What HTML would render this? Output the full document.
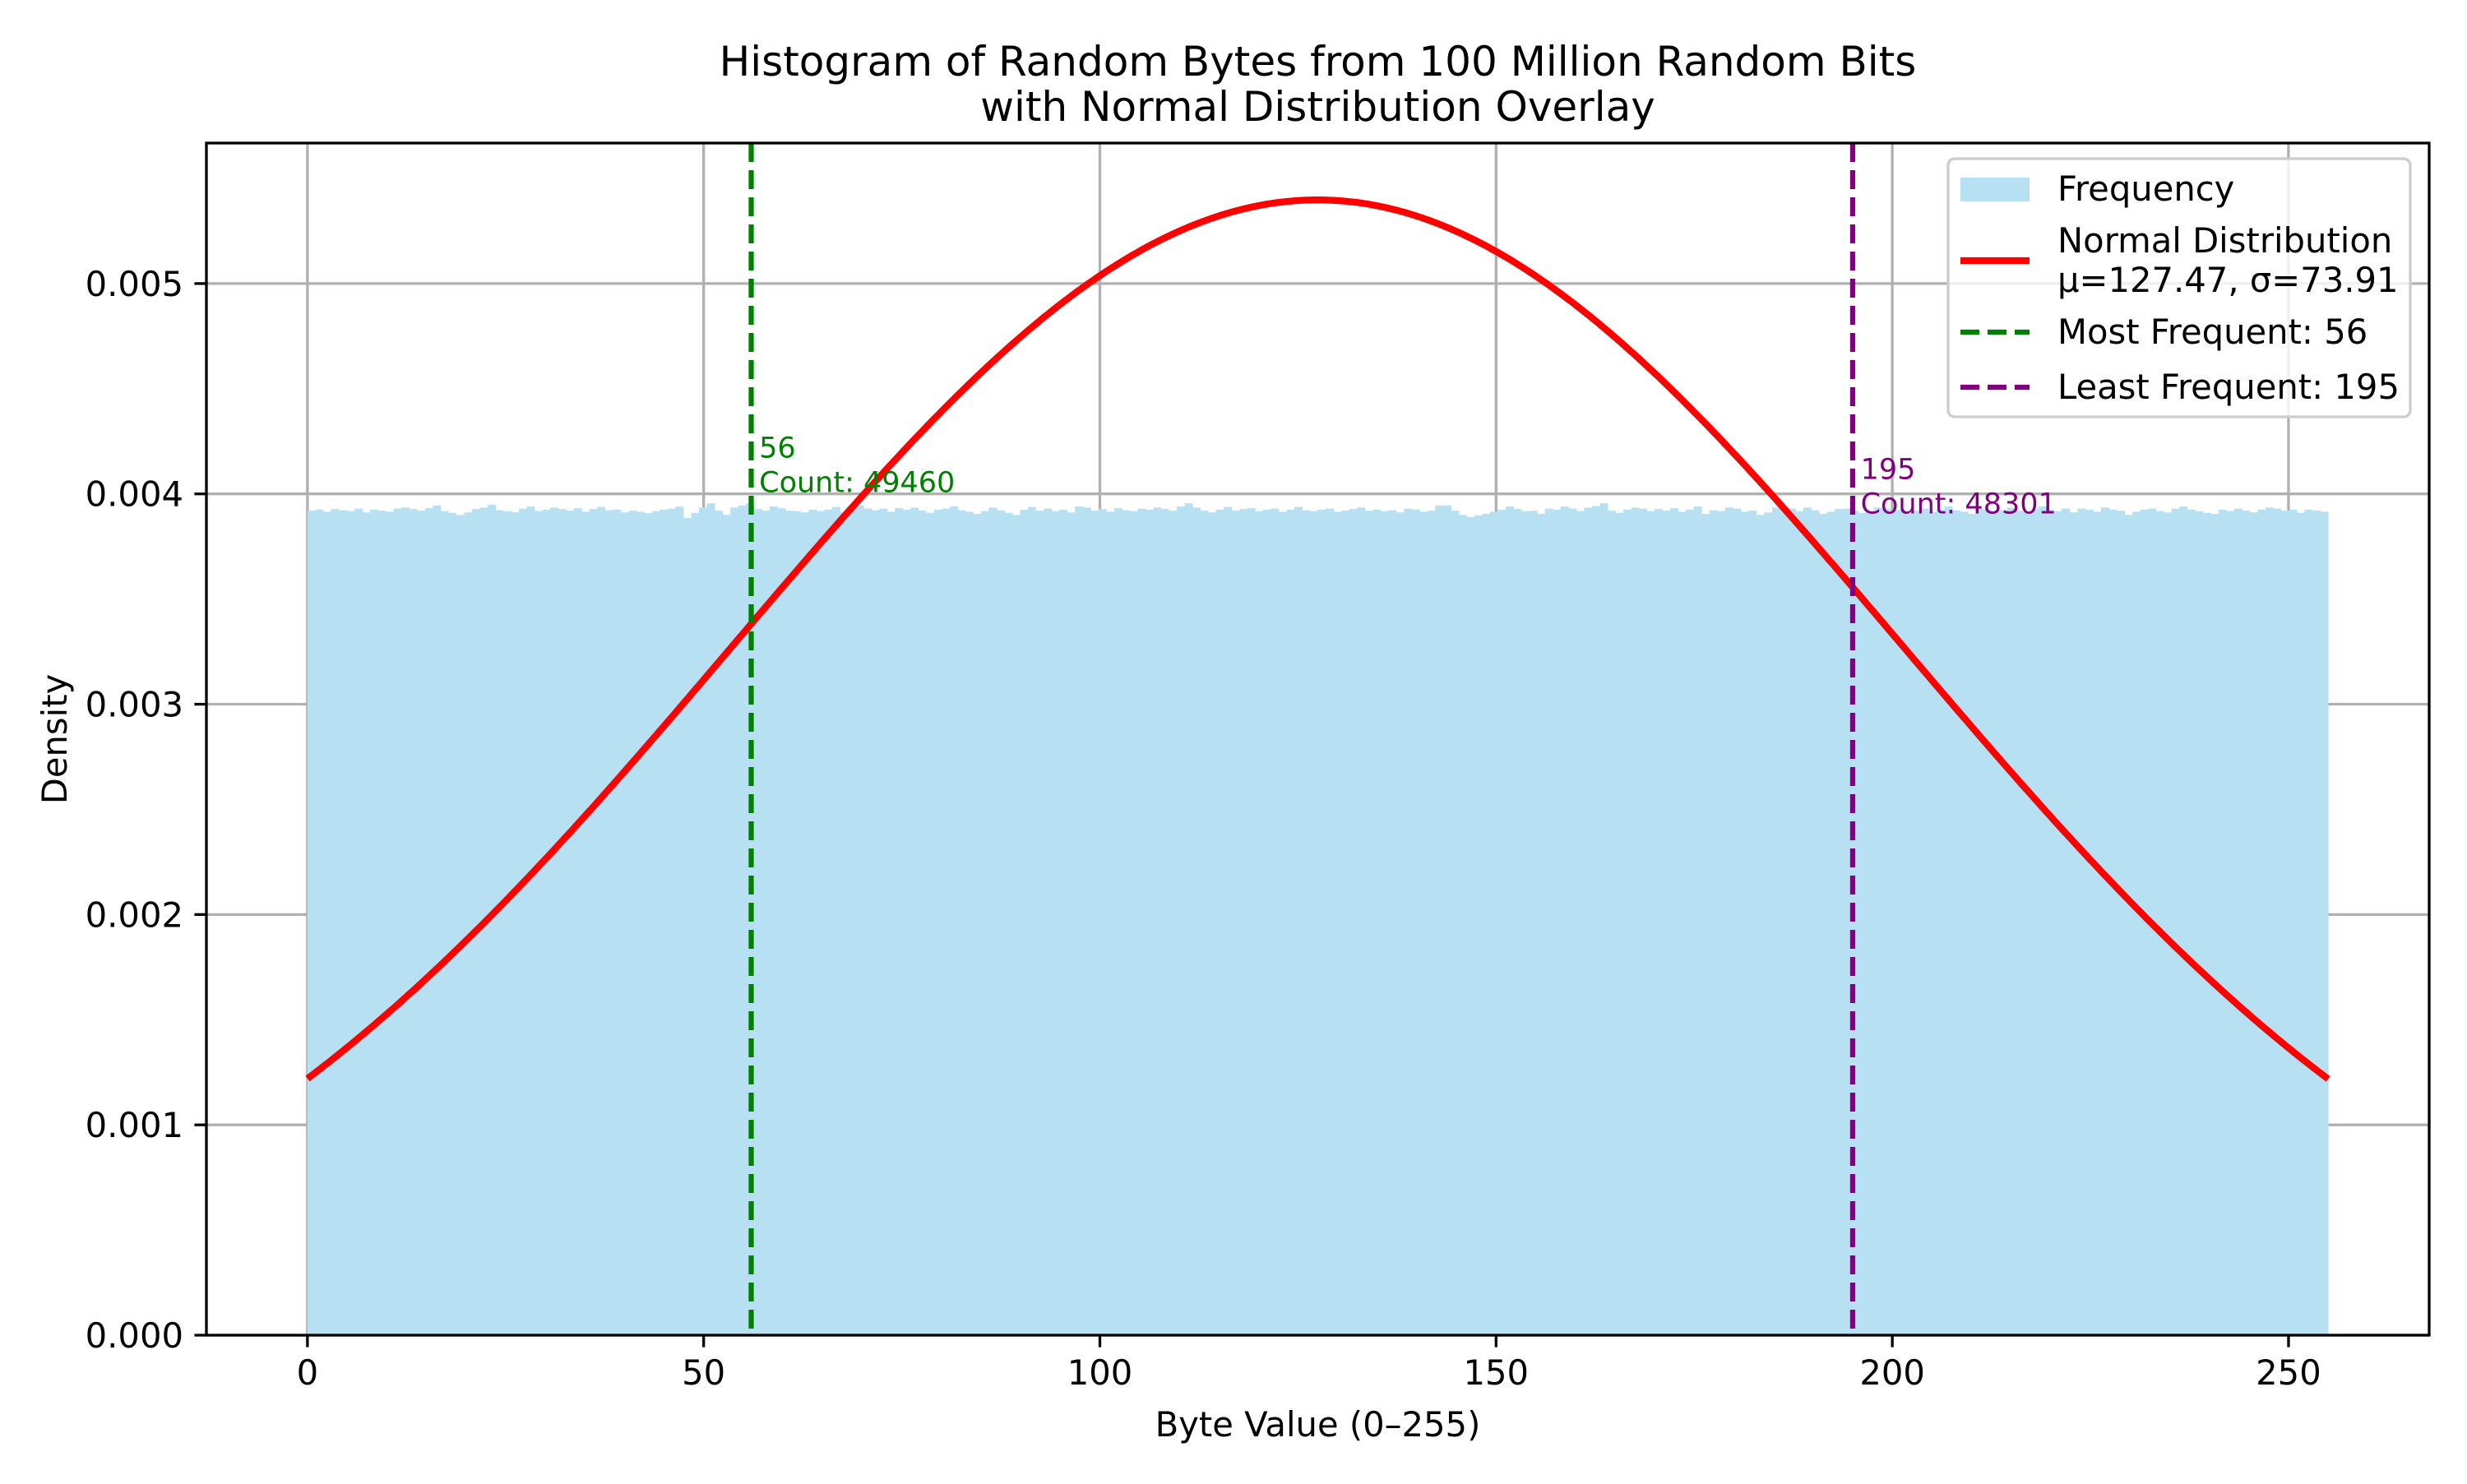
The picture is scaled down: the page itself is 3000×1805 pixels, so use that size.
<!DOCTYPE html>
<html><head><meta charset="utf-8"><style>
body{margin:0;background:#fff}
svg text{font-family:"DejaVu Sans","Liberation Sans",sans-serif}
</style></head><body>
<svg id="chart" width="3000" height="1800" xmlns="http://www.w3.org/2000/svg">
<rect width="3000" height="1800" fill="#fff"/>
<g id="grid"></g><g id="bars"></g><g id="lines"></g><g id="axes"></g><g id="legend"></g>
</svg>
<script>
// data (density x 1e6, 256 bins)
const binDensities=[3920,3925,3915,3928,3922,3918,3930,3912,3925,3920,3915,3930,3935,3928,3920,3932,3945,3918,3910,3900,3912,3928,3935,3948,3922,3918,3912,3930,3940,3918,3925,3935,3928,3920,3932,3915,3928,3938,3922,3925,3912,3920,3915,3908,3918,3925,3930,3940,3885,3910,3935,3955,3920,3900,3935,3945,3955,3928,3920,3940,3932,3920,3918,3912,3925,3918,3925,3938,3912,3920,3945,3930,3922,3930,3915,3932,3925,3935,3920,3910,3925,3930,3940,3922,3915,3905,3918,3935,3922,3910,3900,3925,3938,3920,3930,3918,3925,3912,3940,3935,3920,3928,3915,3932,3922,3918,3930,3925,3935,3928,3920,3940,3955,3935,3920,3912,3925,3938,3920,3928,3932,3918,3925,3930,3915,3925,3938,3922,3918,3925,3930,3915,3920,3928,3935,3920,3925,3918,3922,3912,3930,3925,3915,3920,3945,3945,3920,3900,3890,3898,3905,3915,3925,3940,3928,3918,3920,3905,3930,3925,3940,3930,3918,3935,3942,3955,3920,3910,3925,3935,3930,3918,3928,3920,3932,3915,3925,3940,3905,3922,3918,3935,3930,3915,3920,3900,3912,3935,3925,3930,3918,3935,3922,3905,3915,3928,3930,3920,3910,3918,3935,3930,3920,3925,3912,3920,3930,3915,3925,3940,3922,3915,3905,3930,3925,3918,3922,3935,3920,3912,3928,3940,3925,3918,3930,3912,3930,3925,3915,3935,3925,3920,3900,3915,3925,3930,3918,3912,3930,3940,3925,3918,3910,3905,3925,3918,3930,3920,3912,3925,3935,3930,3920,3925,3910,3925,3920,3915];
const fitParams=[127.47,73.91]; // mu, sigma
const markerValues=[56,195];
const markerCounts=[49460,48301];
const xTicks=[0,50,100,150,200,250];
const yTicks=[0,0.001,0.002,0.003,0.004,0.005];

const L=251,R=2954,T=174,B=1624;
const xmin=-12.75,xmax=267.75,ymin=0,ymax=0.005668;
const X=v=>L+(v-xmin)/(xmax-xmin)*(R-L);
const Y=v=>B-(v-ymin)/(ymax-ymin)*(B-T);
const NS="http://www.w3.org/2000/svg";
function mk(tag,attrs,parent,txt){const e=document.createElementNS(NS,tag);for(const k in attrs)e.setAttribute(k,attrs[k]);if(txt!==undefined)e.textContent=txt;document.getElementById(parent).appendChild(e);return e;}

xTicks.forEach(t=>{const e=mk('line',{x1:X(t),x2:X(t),y1:T,y2:B,stroke:'#b0b0b0','stroke-width':3.3},'grid');

});
yTicks.forEach(t=>{const e=mk('line',{x1:L,x2:R,y1:Y(t),y2:Y(t),stroke:'#b0b0b0','stroke-width':3.3},'grid');

});

const bw=255/binDensities.length;
binDensities.forEach((d,i)=>{const v=d/1e6;const e=mk('rect',{x:X(i*bw),y:Y(v),width:X((i+1)*bw)-X(i*bw)+0.5,height:Y(0)-Y(v),fill:'#b7e0f2'},'bars');

});

const mu=fitParams[0],sg=fitParams[1];let pts=[];
for(let i=0;i<=510;i++){const x=i*255/510;const y=Math.exp(-0.5*((x-mu)/sg)**2)/(sg*Math.sqrt(2*Math.PI));pts.push(X(x).toFixed(1)+','+Y(y).toFixed(1));}
const curve=mk('polyline',{points:pts.join(' '),fill:'none',stroke:'#ff0000','stroke-width':8.3},'lines');



const mcols=['#008000','#800080'];const labelY=[0.004,0.0039];
markerValues.forEach((m,i)=>{const e=mk('line',{x1:X(m),x2:X(m),y1:T,y2:B,stroke:mcols[i],'stroke-width':6.25,'stroke-dasharray':'23 10'},'lines');


const t1=mk('text',{x:X(m+1),y:Y(labelY[i])-44,fill:mcols[i],'font-size':35},'lines',String(m));


const t2=mk('text',{x:X(m+1),y:Y(labelY[i])-2,fill:mcols[i],'font-size':35},'lines','Count: '+markerCounts[i]);

});

const fr=mk('rect',{x:L,y:T,width:R-L,height:B-T,fill:'none',stroke:'#000','stroke-width':3.3},'axes');


xTicks.forEach(t=>{mk('line',{x1:X(t),x2:X(t),y1:B,y2:B+14.6,stroke:'#000','stroke-width':3.3},'axes');
const e=mk('text',{x:X(t),y:B+60,'font-size':41.7,'text-anchor':'middle'},'axes',String(t));

});
yTicks.forEach(t=>{mk('line',{x1:L-14.6,x2:L,y1:Y(t),y2:Y(t),stroke:'#000','stroke-width':3.3},'axes');
const e=mk('text',{x:L-28,y:Y(t)+15,'font-size':41.7,'text-anchor':'end'},'axes',t.toFixed(3));

});
let e;
e=mk('text',{x:(L+R)/2,y:1747,'font-size':41.7,'text-anchor':'middle'},'axes','Byte Value (0–255)');


e=mk('text',{x:81,y:(T+B)/2,'font-size':41.7,'text-anchor':'middle',transform:`rotate(-90 81 ${(T+B)/2})`},'axes','Density');


e=mk('text',{x:(L+R)/2,y:92,'font-size':50,'text-anchor':'middle'},'axes','Histogram of Random Bytes from 100 Million Random Bits');


e=mk('text',{x:(L+R)/2,y:147,'font-size':50,'text-anchor':'middle'},'axes','with Normal Distribution Overlay');



e=mk('rect',{x:2369,y:193,width:562,height:314,rx:8,fill:'#fff','fill-opacity':0.8,stroke:'#ccc','stroke-width':3.3},'legend');


mk('rect',{x:2384,y:216,width:84,height:29,fill:'#b7e0f2'},'legend');
e=mk('text',{x:2502,y:244,'font-size':41.7},'legend','Frequency');


mk('line',{x1:2384,x2:2468,y1:317,y2:317,stroke:'#f00','stroke-width':8.3},'legend');
e=mk('text',{x:2502,y:307,'font-size':41.7},'legend','Normal Distribution');


e=mk('text',{x:2502,y:355,'font-size':41.7},'legend','μ=127.47, σ=73.91');


mk('line',{x1:2384,x2:2468,y1:404,y2:404,stroke:'#008000','stroke-width':6.25,'stroke-dasharray':'23 10'},'legend');
e=mk('text',{x:2502,y:418,'font-size':41.7},'legend','Most Frequent: 56');


mk('line',{x1:2384,x2:2468,y1:471,y2:471,stroke:'#800080','stroke-width':6.25,'stroke-dasharray':'23 10'},'legend');
e=mk('text',{x:2502,y:485,'font-size':41.7},'legend','Least Frequent: 195');


</script>
</body></html>
